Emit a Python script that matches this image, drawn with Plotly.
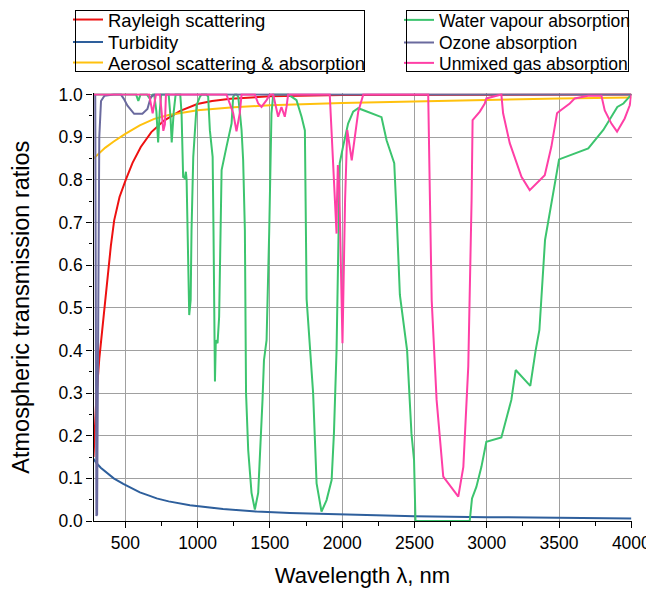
import plotly.graph_objects as go

# ---------------- data ----------------
wl_rayleigh = [280, 290, 300, 320, 350, 372, 400, 423, 460, 503, 550, 607, 680, 768, 880, 998, 1100, 1228, 1500, 2000, 4000]
t_rayleigh = [0.15, 0.22, 0.29, 0.38, 0.48, 0.56, 0.645, 0.705, 0.76, 0.80, 0.84, 0.877, 0.912, 0.939, 0.962, 0.978, 0.985, 0.99, 0.996, 0.999, 1.0]

wl_turbidity = [280, 300, 330, 371, 420, 486, 550, 601, 660, 717, 800, 947, 1176, 1407, 1638, 2000, 2500, 3000, 3500, 4000]
t_turbidity = [0.146, 0.136, 0.125, 0.114, 0.1, 0.087, 0.076, 0.067, 0.06, 0.053, 0.046, 0.037, 0.028, 0.022, 0.019, 0.015, 0.011, 0.009, 0.007, 0.006]

wl_aerosol = [280, 320, 360, 420, 500, 600, 700, 800, 900, 1000, 1250, 1500, 2000, 2500, 3000, 3500, 4000]
t_aerosol = [0.85, 0.862, 0.875, 0.89, 0.908, 0.928, 0.943, 0.952, 0.958, 0.963, 0.97, 0.975, 0.98, 0.984, 0.988, 0.991, 0.993]

wl_water = [280, 575, 590, 605, 650, 670, 690, 700, 715, 727, 738, 748, 800, 812, 821, 835, 848, 880,
            889, 900, 912, 919, 924, 942, 952, 958, 970, 993, 1016, 1028, 1062, 1073, 1085, 1104, 1110,
            1120, 1126, 1138, 1149, 1158, 1166, 1200, 1235, 1246, 1258, 1270, 1281, 1293, 1304, 1315,
            1327, 1335, 1350, 1373, 1396, 1419, 1435, 1449, 1459, 1477, 1495, 1503, 1511, 1523, 1626,
            1649, 1684, 1719, 1742, 1747, 1754, 1799, 1823, 1857, 1892, 1927, 1943, 1961, 1973, 1980,
            1983, 2006, 2041, 2076, 2111, 2157, 2272, 2307, 2360, 2376, 2399, 2449, 2479, 2497, 2507,
            2875, 2882, 2898, 2928, 2963, 2997, 3101, 3170, 3200, 3301, 3338, 3364, 3403, 3500, 3702,
            3806, 3903, 3945, 4000]
t_water = [1.0, 1.0, 0.985, 1.0, 1.0, 0.99, 1.0, 1.0, 0.96, 0.888, 0.96, 1.0, 1.0, 0.95, 0.888, 0.96, 1.0, 1.0,
           0.957, 0.807, 0.804, 0.819, 0.80, 0.483, 0.518, 0.682, 0.854, 0.975, 0.995, 1.0, 1.0, 0.995, 0.916, 0.854, 0.68,
           0.327, 0.424, 0.417, 0.479, 0.72, 0.823, 0.878, 0.932, 0.995, 1.0, 1.0, 0.995, 0.956, 0.917, 0.846,
           0.682, 0.30, 0.166, 0.066, 0.027, 0.066, 0.166, 0.284, 0.377, 0.424, 0.675, 0.85, 0.956, 1.0, 1.0,
           0.995, 0.987, 0.948, 0.916, 0.75, 0.52, 0.30, 0.088, 0.022, 0.049, 0.096, 0.206, 0.40, 0.596, 0.753,
           0.839, 0.878, 0.932, 0.96, 0.968, 0.962, 0.947, 0.893, 0.839, 0.721, 0.53, 0.40, 0.206, 0.143, 0.0,
           0.0, 0.0, 0.053, 0.08, 0.127, 0.186, 0.196, 0.284, 0.354, 0.317, 0.40, 0.448, 0.659, 0.848, 0.874,
           0.917, 0.971, 0.979, 1.0]

wl_ozone = [280, 292, 300, 305, 320, 332, 355, 420, 470, 490, 515, 561, 618, 653, 676, 700, 4000]
t_ozone = [1.0, 0.999, 0.012, 0.015, 0.9, 0.985, 0.997, 1.0, 1.0, 0.99, 0.974, 0.955, 0.955, 0.966, 0.994, 1.0, 1.0]

wl_gas = [280, 665, 689, 712, 740, 758, 763, 774, 781, 1200, 1246, 1269, 1292, 1304, 1396, 1419, 1442, 1477,
          1500, 1523, 1546, 1557, 1580, 1603, 1615, 1626, 1914, 1937, 1954, 1961, 1964, 1970, 1980, 2002,
          2020, 2035, 2066, 2089, 2111, 2146, 2595, 2607, 2619, 2653, 2699, 2803, 2838, 2872, 2888, 2895,
          2902, 2952, 2986, 2997, 3101, 3113, 3159, 3240, 3297, 3401, 3447, 3486, 3498, 3528, 3574, 3609,
          3700, 3793, 3816, 3862, 3901, 3954, 3989, 4000]
t_gas = [1.0, 1.0, 0.956, 1.0, 1.0, 0.918, 0.915, 0.93, 1.0, 1.0, 0.957, 0.914, 0.957, 1.0, 1.0, 0.979, 0.971, 0.987,
         1.0, 1.0, 0.963, 0.948, 0.971, 0.948, 0.971, 1.0, 1.0, 0.839, 0.70, 0.674, 0.75, 0.835, 0.78, 0.417,
         0.753, 0.917, 0.846, 0.90, 0.96, 1.0, 1.0, 0.753, 0.518, 0.284, 0.104, 0.057, 0.127, 0.362, 0.596, 0.753,
         0.94, 0.96, 0.979, 0.991, 1.0, 0.956, 0.886, 0.807, 0.776, 0.811, 0.878, 0.956, 0.96, 0.968, 0.979, 0.991,
         0.997, 0.997, 0.963, 0.932, 0.913, 0.944, 0.975, 1.0]

x_ticks = [500, 1000, 1500, 2000, 2500, 3000, 3500, 4000]
y_ticks = [0.0, 0.1, 0.2, 0.3, 0.4, 0.5, 0.6, 0.7, 0.8, 0.9, 1.0]

FONT = "Liberation Sans, Arial, sans-serif"

# (name, x, y, colour, legend column, legend row)
series = [
    ("Rayleigh scattering", wl_rayleigh, t_rayleigh, "#ee1111", 0, 0),
    ("Turbidity", wl_turbidity, t_turbidity, "#2e5f9c", 0, 1),
    ("Aerosol scattering & absorption", wl_aerosol, t_aerosol, "#ffc10e", 0, 2),
    ("Water vapour absorption", wl_water, t_water, "#3cc46e", 1, 0),
    ("Ozone absorption", wl_ozone, t_ozone, "#6a6a9e", 1, 1),
    ("Unmixed gas absorption", wl_gas, t_gas, "#ff3fa6", 1, 2),
]

# The figure sits 8px in from the page corner (default body margin).
W, H = 646, 590
OFF = 8
PLOT_L, PLOT_R, PLOT_T, PLOT_B = 93.5, 631.5, 93.3, 521   # plot box in screen px


def px_x(sx):  # screen x -> paper x
    return (sx - OFF) / W


def px_y(sy):  # screen y -> paper y
    return 1 - (sy - OFF) / H


legend_cols_x = [68, 399]
legend_cols_font = [18.5, 17.5]
legend_rows_y = [20, 42.5, 63]

fig = go.Figure()
layout_legends = {}
for i, (name, xs, ys, col, c, r) in enumerate(series):
    key = "legend" if i == 0 else f"legend{i + 1}"
    fig.add_trace(go.Scatter(x=xs, y=ys, mode="lines", name=name,
                             line=dict(color=col, width=2), legend=key))
    layout_legends[key] = dict(
        x=px_x(legend_cols_x[c]), y=px_y(legend_rows_y[r]),
        xanchor="left", yanchor="middle",
        font=dict(family=FONT, size=legend_cols_font[c], color="black"),
        bgcolor="rgba(0,0,0,0)", borderwidth=0, itemwidth=30,
    )

# legend frames (screen px: left, top, width, height): empty bordered legends
frames = [(75, 10, 291, 63), (406, 10, 224, 63)]
for j, (fx, fy, fw, fh) in enumerate(frames):
    key = f"legend{len(series) + 1 + j}"
    fig.add_trace(go.Scatter(x=[None], y=[None], mode="lines", name=" ",
                             line=dict(color="rgba(0,0,0,0)", width=0),
                             legend=key, hoverinfo="skip"))
    layout_legends[key] = dict(
        x=px_x(fx), y=px_y(fy), xanchor="left", yanchor="top",
        orientation="h", entrywidth=fw - 48, entrywidthmode="pixels",
        font=dict(family=FONT, size=(fh - 17) / 1.3, color="rgba(0,0,0,0)"),
        bgcolor="rgba(0,0,0,0)", bordercolor="black", borderwidth=1,
        itemclick=False, itemdoubleclick=False,
    )

fig.update_layout(
    width=W, height=H,
    margin=dict(l=0, r=0, t=0, b=0, autoexpand=False),
    plot_bgcolor="rgba(0,0,0,0)", paper_bgcolor="white",
    font=dict(family=FONT, size=17.5, color="black"),
    showlegend=True,
    **layout_legends,
)

axis_common = dict(
    showline=True, linecolor="black", linewidth=1.3,
    ticks="outside", ticklen=6, tickwidth=1.3, tickcolor="black",
    showgrid=True, gridcolor="#a0a0a0", gridwidth=1.3,
    zeroline=False, automargin=False,
    tickfont=dict(family=FONT, size=17.5, color="black"),
)

fig.update_layout(
    xaxis=dict(domain=[px_x(PLOT_L), px_x(PLOT_R)], range=[280, 4001], tickvals=x_ticks,
               minor=dict(dtick=250, tick0=0, ticks="outside", ticklen=3.5, tickcolor="black", tickwidth=1.2, showgrid=False),
               title=dict(text="Wavelength λ, nm", font=dict(family=FONT, size=22), standoff=15),
               **axis_common),
    yaxis=dict(domain=[px_y(PLOT_B), px_y(PLOT_T)], range=[0, 1.003], tickvals=y_ticks, tickformat=".1f",
               minor=dict(dtick=0.05, tick0=0, ticks="outside", ticklen=3.5, tickcolor="black", tickwidth=1.2, showgrid=False),
               title=dict(text="Atmospheric transmission ratios", font=dict(family=FONT, size=23.5), standoff=29),
               **axis_common),
)

fig.write_html("out.html")
